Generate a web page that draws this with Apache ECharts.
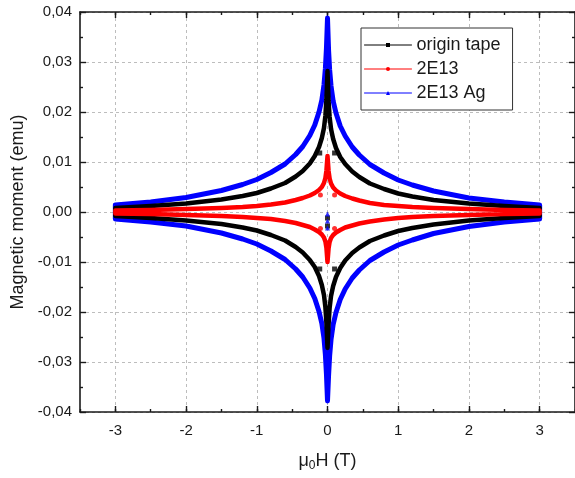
<!DOCTYPE html>
<html>
<head>
<meta charset="utf-8">
<script src="https://cdn.jsdelivr.net/npm/echarts@6/dist/echarts.min.js"></script>
<style>
  html, body { margin: 0; padding: 0; background: #fff; }
  #chart { width: 575px; height: 478px; }
</style>
</head>
<body>
<div id="chart"></div>
<script>
// Applied field (T), shared by the upper and lower branch of every loop
const field = [-3, -2.5, -2, -1.5, -1.2, -1, -0.8, -0.6, -0.45, -0.35, -0.25, -0.18, -0.12, -0.08, -0.05, -0.03, -0.015, 0,
               0.015, 0.03, 0.05, 0.08, 0.12, 0.18, 0.25, 0.35, 0.45, 0.6, 0.8, 1, 1.2, 1.5, 2, 2.5, 3];

// Magnetic moment (emu), origin tape
const tapeUpper = [0.0008, 0.0012, 0.0017, 0.0025, 0.0032, 0.0038, 0.0047, 0.0058, 0.0071, 0.0082, 0.0097, 0.0112, 0.0130, 0.0148, 0.0168, 0.0192, 0.0225, 0.0282,
                   0.0222, 0.0190, 0.0166, 0.0146, 0.0128, 0.0110, 0.0096, 0.0081, 0.0070, 0.0057, 0.0046, 0.0037, 0.0031, 0.0024, 0.0017, 0.0012, 0.0008];
const tapeLower = [-0.0008, -0.0012, -0.0017, -0.0024, -0.0031, -0.0037, -0.0046, -0.0057, -0.0070, -0.0081, -0.0096, -0.0110, -0.0128, -0.0146, -0.0166, -0.0190, -0.0222, -0.0272,
                   -0.0225, -0.0192, -0.0168, -0.0148, -0.0130, -0.0112, -0.0097, -0.0082, -0.0071, -0.0058, -0.0047, -0.0038, -0.0032, -0.0025, -0.0017, -0.0012, -0.0008];

// Magnetic moment (emu), 2E13
const ionUpper = [0.0003, 0.0004, 0.0006, 0.0008, 0.0010, 0.0012, 0.0015, 0.0019, 0.0024, 0.0028, 0.0033, 0.0038, 0.0044, 0.0050, 0.0058, 0.0068, 0.0083, 0.0112,
                  0.0082, 0.0067, 0.0057, 0.0049, 0.0043, 0.0037, 0.0032, 0.0027, 0.0023, 0.0018, 0.0014, 0.0012, 0.0010, 0.0008, 0.0006, 0.0004, 0.0003];
const ionLower = [-0.0003, -0.0004, -0.0006, -0.0008, -0.0010, -0.0012, -0.0014, -0.0018, -0.0022, -0.0026, -0.0030, -0.0035, -0.0040, -0.0045, -0.0051, -0.0059, -0.0072, -0.0100,
                  -0.0073, -0.0060, -0.0052, -0.0046, -0.0041, -0.0036, -0.0031, -0.0027, -0.0023, -0.0019, -0.0015, -0.0012, -0.0010, -0.0008, -0.0006, -0.0004, -0.0003];

// Magnetic moment (emu), 2E13 Ag
const agUpper = [0.0014, 0.0020, 0.0029, 0.0043, 0.0055, 0.0065, 0.0079, 0.0096, 0.0115, 0.0131, 0.0153, 0.0174, 0.0200, 0.0224, 0.0254, 0.0287, 0.0327, 0.0388,
                 0.0324, 0.0285, 0.0252, 0.0222, 0.0198, 0.0172, 0.0152, 0.0130, 0.0114, 0.0095, 0.0078, 0.0064, 0.0054, 0.0042, 0.0028, 0.0020, 0.0014];
const agLower = [-0.0014, -0.0020, -0.0028, -0.0042, -0.0054, -0.0064, -0.0078, -0.0095, -0.0114, -0.0130, -0.0152, -0.0173, -0.0199, -0.0223, -0.0252, -0.0285, -0.0324, -0.0378,
                 -0.0327, -0.0288, -0.0255, -0.0225, -0.0201, -0.0175, -0.0154, -0.0132, -0.0116, -0.0097, -0.0080, -0.0066, -0.0056, -0.0043, -0.0029, -0.0020, -0.0014];

// Stray points recorded near zero field
const tapeStray = [[-0.11, 0.0118], [0.1, 0.0118], [-0.11, -0.0114], [0.1, -0.0114], [0, -0.0012], [0, -0.0028]];
const ionStray = [[-0.1, 0.0034], [0.1, 0.0034], [-0.1, -0.0033], [0.1, -0.0033]];
const agStray = [[0, -0.0004], [0, -0.0018], [0, -0.0032]];

const seriesNames = ['origin tape', '2E13', '2E13 Ag'];
const xMajorTicks = [-3, -2, -1, 0, 1, 2, 3];

// Build a closed loop: upper branch left to right, lower branch right to left
function loop(upper, lower) {
  const pts = field.map((h, i) => [h, upper[i]]);
  for (let i = field.length - 1; i >= 0; i--) pts.push([field[i], lower[i]]);
  pts.push(pts[0]);
  return pts;
}

const FONT = "'Liberation Sans', Arial, sans-serif";
const INK = '#1a1a1a';
const axisLine = { show: true, onZero: false, lineStyle: { color: INK, width: 1.6 } };
const gridDash = { show: true, lineStyle: { color: '#bdbdbd', width: 1, type: [3, 3] } };

function xMajor(position, withLabels) {
  return {
    type: 'value', position, min: -3.5, max: 3.5, interval: 0.5,
    axisLine,
    axisTick: { show: true, inside: true, length: 6, customValues: xMajorTicks, lineStyle: { color: INK, width: 1.4 } },
    axisLabel: withLabels
      ? { show: true, customValues: xMajorTicks, fontFamily: FONT, fontSize: 15, color: INK, margin: 11 }
      : { show: false },
    splitLine: withLabels ? gridDash : { show: false }
  };
}
function xMinor(position) {
  return {
    type: 'value', position, min: -3.5, max: 3.5, interval: 0.5,
    axisLine: { show: false, onZero: false },
    axisTick: { show: true, inside: true, length: 3, lineStyle: { color: INK, width: 1.4 } },
    axisLabel: { show: false }, splitLine: { show: false }
  };
}
function yAxis(position, withLabels) {
  return {
    type: 'value', position, min: -0.04, max: 0.04, interval: 0.01,
    axisLine,
    axisTick: { show: true, inside: true, length: 6, lineStyle: { color: INK, width: 1.4 } },
    minorTick: { show: true, splitNumber: 2, length: 3, lineStyle: { color: INK, width: 1.4 } },
    axisLabel: withLabels
      ? { show: true, fontFamily: FONT, fontSize: 15, color: INK, margin: 8,
          formatter: v => v.toFixed(2).replace('.', ',').replace('-0,00', '0,00') }
      : { show: false },
    splitLine: withLabels ? gridDash : { show: false }
  };
}

const chart = echarts.init(document.getElementById('chart'), null, { renderer: 'canvas' });

const bottomAxis = xMajor('bottom', true);
bottomAxis.name = '{a|μ}{s|0}{a|H (T)}';
bottomAxis.nameLocation = 'middle';
bottomAxis.nameGap = 38;
bottomAxis.nameTextStyle = {
  rich: {
    a: { fontFamily: FONT, fontSize: 18, color: INK },
    s: { fontFamily: FONT, fontSize: 12, color: INK, padding: [10, 0, 0, 0] }
  }
};

const leftAxis = yAxis('left', true);
leftAxis.name = 'Magnetic moment (emu)';
leftAxis.nameLocation = 'middle';
leftAxis.nameGap = 52;
leftAxis.nameTextStyle = { fontFamily: FONT, fontSize: 18, color: INK };

function lineSeries(name, data, color, symbol, width, z) {
  return {
    name, type: 'line', data, xAxisIndex: 0, yAxisIndex: 0,
    symbol, symbolSize: 5, showSymbol: false,
    lineStyle: { color, width, join: 'round', cap: 'round' },
    itemStyle: { color },
    emphasis: { disabled: true }, silent: true, z
  };
}
function strayPoints(name, data, color, symbol) {
  return {
    name, type: 'scatter', data, xAxisIndex: 0, yAxisIndex: 0,
    symbol, symbolSize: 5, itemStyle: { color }, silent: true, z: 6
  };
}

chart.setOption({
  animation: false,
  backgroundColor: '#ffffff',
  textStyle: { fontFamily: FONT },
  grid: { left: 80, right: 0, top: 12, bottom: 66, containLabel: false },
  xAxis: [bottomAxis, xMinor('bottom'), xMajor('top', false), xMinor('top')],
  yAxis: [leftAxis, yAxis('right', false)],
  legend: {
    data: seriesNames,
    orient: 'vertical',
    left: 361, top: 28,
    padding: [8, 12, 8, 3],
    itemWidth: 47, itemHeight: 5, itemGap: 6,
    borderColor: '#333', borderWidth: 1,
    backgroundColor: '#fff',
    lineStyle: { width: 1 },
    textStyle: { fontFamily: FONT, fontSize: 18, color: INK },
    selectedMode: false
  },
  series: [
    // outer Ag loop underneath, then the tape, then the 2E13 loop on top
    lineSeries(seriesNames[2], loop(agUpper, agLower), '#0000ff', 'triangle', 5, 3),
    lineSeries(seriesNames[0], loop(tapeUpper, tapeLower), '#000000', 'rect', 4.5, 4),
    lineSeries(seriesNames[1], loop(ionUpper, ionLower), '#ff0000', 'circle', 4.5, 5),
    strayPoints('tape stray', tapeStray, '#000000', 'rect'),
    strayPoints('ion stray', ionStray, '#ff0000', 'circle'),
    strayPoints('ag stray', agStray, '#0000ff', 'triangle')
  ]
});
</script>
</body>
</html>
